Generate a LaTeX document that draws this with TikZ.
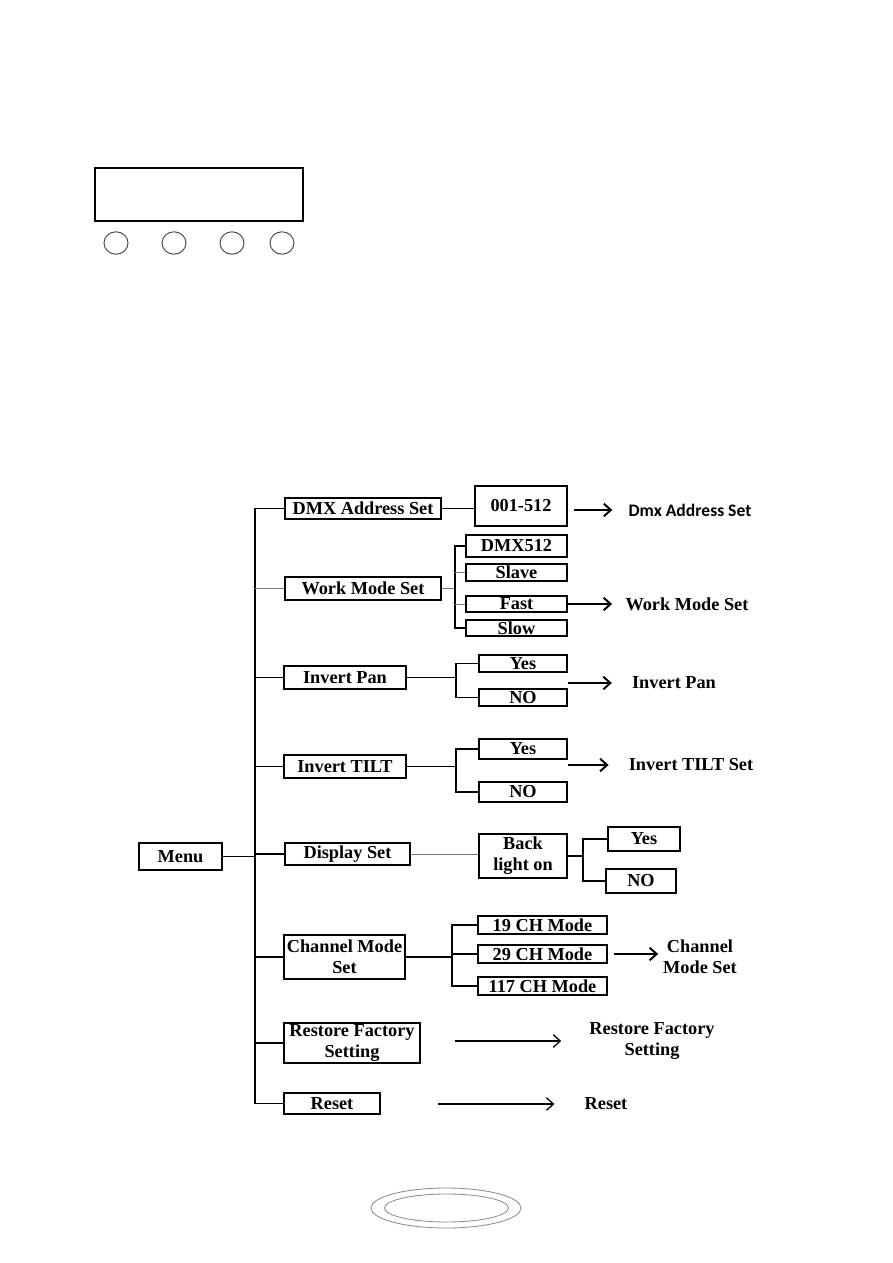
\documentclass[tikz,border=0pt]{standalone}
\usepackage{fontspec}
\setmainfont{Liberation Serif}
\newfontfamily\calib{Carlito}
\usetikzlibrary{arrows.meta,positioning,calc}
\definecolor{linegray}{RGB}{120,120,120}
\definecolor{rimgray}{RGB}{140,140,140}

\begin{document}
\begin{tikzpicture}[x=0.025cm, y=-0.025cm]
\tikzstyle{box} = [rectangle, draw=black, line width=1pt, inner sep=0pt, text centered, align=center, font=\fontsize{13}{15}\selectfont\bfseries]
\tikzstyle{result} = [inner sep=0pt, align=center, font=\fontsize{13}{15}\selectfont\bfseries]
\tikzstyle{link} = [line width=1pt]
\tikzstyle{faint} = [line width=0.5pt, draw=linegray]
\tikzstyle{arrow} = [line width=1.4pt, -{Straight Barb[length=5pt, width=9pt]}]
\tikzstyle{longarrow} = [line width=0.9pt, -{Straight Barb[length=5pt, width=9pt]}]
\tikzstyle{button} = [draw=black!70, line width=0.7pt]

\useasboundingbox (0,0) rectangle (893,1263);

% control panel
\node (lcd) [draw, line width=1pt, minimum width=5.2cm, minimum height=1.325cm, inner sep=0pt] at (199,194.5) {};
\foreach \bx/\bn in {116/b1, 174/b2, 232/b3, 282/b4}
  \draw[button] (\bx,243) ellipse (0.3cm and 0.28cm);

% menu
\node (menu) [box, minimum width=2.075cm, minimum height=0.675cm] at (180.5,856.5) {Menu};
\coordinate (spine) at (255,856.5);

\node (dmx) [box, minimum width=3.9cm, minimum height=0.525cm] at (363,508.5) {DMX Address Set};
\node (work) [box, minimum width=3.9cm, minimum height=0.575cm] at (363,588.5) {Work Mode Set};
\node (pan) [box, minimum width=3.05cm, minimum height=0.575cm] at (345,677.5) {Invert Pan};
\node (tilt) [box, minimum width=3.05cm, minimum height=0.575cm] at (345,766.5) {Invert TILT};
\node (disp) [box, minimum width=3.125cm, minimum height=0.55cm] at (347.5,854) {Display Set};
\node (chan) [box, minimum width=3.025cm, minimum height=1.1cm] at (344.5,957) {Channel Mode\\Set};
\node (restore) [box, minimum width=3.4cm, minimum height=1cm] at (352,1043) {Restore Factory\\Setting};
\node (reset) [box, minimum width=2.4cm, minimum height=0.525cm] at (332,1103.5) {Reset};

\draw[link, line width=1.3pt] (menu.east) -- (spine);
\draw[link] (dmx.west) -| (spine);
\draw[link] (reset.west) -| (spine);
\draw[faint] (work.west) -- (work.west -| spine);
\foreach \n in {pan, tilt, disp, chan, restore}
  \draw[link] (\n.west) -- (\n.west -| spine);

% dmx address
\node (addr) [box, minimum width=2.3cm, minimum height=1cm] at (521,506) {001-512};
\node (dmxres) [result, font=\calib\fontsize{12.5}{15}\selectfont\bfseries] at (690,510) {Dmx Address Set};
\draw[link] (dmx.east) -- (dmx.east -| addr.west);
\draw[arrow, shorten <=0.15cm, shorten >=0.4cm] (addr.east |- dmxres) -- (dmxres.west);

% work mode
\node (dmx512) [box, minimum width=2.525cm, minimum height=0.55cm] at (516.5,546) {DMX512};
\node (slave) [box, minimum width=2.525cm, minimum height=0.425cm] at (516.5,572.5) {Slave};
\node (fast) [box, minimum width=2.525cm, minimum height=0.4cm] at (516.5,604) {Fast};
\node (slow) [box, minimum width=2.525cm, minimum height=0.4cm] at (516.5,628) {Slow};
\node (workres) [result] at (687,604) {Work Mode Set};
\coordinate (workj) at (455,588.5);
\draw[faint] (work.east) -- (workj);
\draw[link] (dmx512.west) -| (workj) |- (slow.west);
\draw[faint] (slave.west) -- (slave.west -| workj);
\draw[faint] (fast.west) -- (fast.west -| workj);
\draw[arrow, shorten >=0.33cm] (fast.east) -- (workres.west);

% invert pan
\node (panyes) [box, minimum width=2.2cm, minimum height=0.425cm] at (523,663.5) {Yes};
\node (panno) [box, minimum width=2.2cm, minimum height=0.425cm] at (523,697.5) {NO};
\node (panres) [result] at (674,683) {Invert Pan};
\coordinate (panj) at (456,677.5);
\draw[link] (pan.east) -- (panj);
\draw[link] (panyes.west) -| (panj) |- (panno.west);
\draw[arrow, shorten >=0.5cm] (panyes.east |- panres) -- (panres.west);

% invert tilt
\node (tiltyes) [box, minimum width=2.2cm, minimum height=0.5cm] at (523,749) {Yes};
\node (tiltno) [box, minimum width=2.2cm, minimum height=0.5cm] at (523,792) {NO};
\node (tiltres) [result] at (691,765) {Invert TILT Set};
\coordinate (tiltj) at (456,766.5);
\draw[link] (tilt.east) -- (tiltj);
\draw[link] (tiltyes.west) -| (tiltj) |- (tiltno.west);
\draw[arrow, shorten >=0.5cm] (tiltyes.east |- tiltres) -- (tiltres.west);

% display
\node (back) [box, minimum width=2.2cm, minimum height=1.1cm] at (523,856) {Back\\light on};
\node (dispyes) [box, minimum width=1.8cm, minimum height=0.6cm] at (644,839) {Yes};
\node (dispno) [box, minimum width=1.75cm, minimum height=0.6cm] at (641,881) {NO};
\coordinate (backj) at (583,856);
\draw[faint] (disp.east) -- (disp.east -| back.west);
\draw[link] (back.east) -- (backj);
\draw[link] (dispyes.west) -| (backj) |- (dispno.west);

% channel mode
\node (ch19) [box, minimum width=3.225cm, minimum height=0.45cm] at (542.5,925) {19 CH Mode};
\node (ch29) [box, minimum width=3.225cm, minimum height=0.45cm] at (542.5,954) {29 CH Mode};
\node (ch117) [box, minimum width=3.225cm, minimum height=0.45cm] at (542.5,986) {117 CH Mode};
\node (chanres) [result] at (700,957) {Channel\\Mode Set};
\coordinate (chanj) at (452,957);
\draw[link] (chan.east) -- (chanj);
\draw[link] (ch19.west) -| (chanj) |- (ch117.west);
\draw[link] (ch29.west) -- (ch29.west -| chanj);
\draw[arrow, shorten <=0.15cm, shorten >=0.12cm] (ch29.east) -- (ch29.east -| chanres.west);

% restore and reset
\node (restoreres) [result] at (652,1041) {Restore Factory\\Setting};
\coordinate (restorea) at (455,1041);
\draw[longarrow, shorten >=0.7cm] (restorea) -- (restoreres.west);
\node (resetres) [result] at (606,1104) {Reset};
\coordinate (reseta) at (438,1104);
\draw[longarrow, shorten >=0.75cm] (reseta) -- (resetres.west);

% page number frame
\draw[draw=rimgray, line width=0.6pt] (446,1208) ellipse (1.875cm and 0.5cm);
\draw[draw=rimgray, line width=0.6pt] (446.5,1208) ellipse (1.55cm and 0.35cm);
\end{tikzpicture}
\end{document}
